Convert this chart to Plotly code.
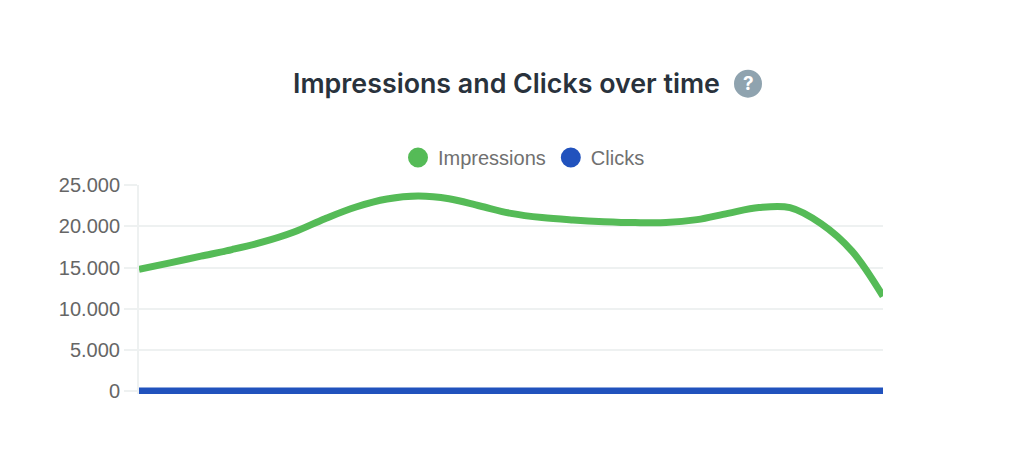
import plotly.graph_objects as go

periods = list(range(25))
impressions = [14770, 15570, 16380, 17190, 18120, 19330, 20950, 22370, 23340, 23700,
               23380, 22490, 21600, 21080, 20790, 20590, 20470, 20470, 20830, 21600,
               22300, 22300, 20350, 17000, 11500]
clicks = [0] * 25
y_ticks = [0, 5000, 10000, 15000, 20000, 25000]

GREEN = '#55bb57'
BLUE = '#2152bd'
GRID = '#eef1f1'

# Plot box in page pixels, the page body adds 8px around the figure.
LEFT, RIGHT, TOP, BOTTOM = 139, 883, 184.6, 394.3


def px(x):
    return (x - LEFT) / (RIGHT - LEFT)


def py(y):
    return (BOTTOM - y) / (BOTTOM - TOP)


fig = go.Figure()

# The curves themselves, no legend entry because the legend uses round dots.
fig.add_trace(go.Scatter(x=periods, y=impressions, mode='lines', showlegend=False,
                         line=dict(color=GREEN, width=7, shape='spline', smoothing=1)))
fig.add_trace(go.Scatter(x=periods, y=clicks, mode='lines', showlegend=False,
                         line=dict(color=BLUE, width=6.5)))

# Legend dots
fig.add_trace(go.Scatter(x=[None], y=[None], mode='markers', name='Impressions',
                         marker=dict(color=GREEN, size=16, line=dict(color=GREEN, width=4))))
fig.add_trace(go.Scatter(x=[None], y=[None], mode='markers', name='Clicks',
                         marker=dict(color=BLUE, size=16, line=dict(color=BLUE, width=4))))

fig.update_layout(
    width=1008,
    height=444,
    margin=dict(l=LEFT - 8, r=1016 - RIGHT, t=TOP - 8, b=452 - BOTTOM),
    paper_bgcolor='white',
    plot_bgcolor='white',
    separators=',.',
    font=dict(family='Liberation Sans', size=20, color='#666666'),
    title=dict(text='Impressions and Clicks over time', x=(506.5 - 8) / 1008, xanchor='center',
               y=1 - (84 - 8) / 444, yanchor='middle',
               font=dict(family='Inter', size=26.8, weight=600, color='#29323c')),
    legend=dict(orientation='h', x=px(524), xanchor='center', y=py(157), yanchor='middle',
                font=dict(size=20, color='#707070'), itemclick=False),
    xaxis=dict(range=[0, 24], showgrid=False, showticklabels=False, zeroline=False,
               showline=False, ticks=''),
    yaxis=dict(range=[-400, 25050], tickvals=y_ticks, tickformat=',d', gridcolor=GRID, gridwidth=2,
               zeroline=False, showline=True, linecolor=GRID, linewidth=2,
               ticks='outside', ticklen=13, tickwidth=2, tickcolor=GRID),
)

# Help icon next to the title
fig.add_shape(type='circle', xref='paper', yref='paper', layer='above',
              x0=px(734), x1=px(762), y0=py(97), y1=py(69),
              fillcolor='#8fa3af', line_width=0)
fig.add_annotation(text='<b>?</b>', xref='paper', yref='paper', showarrow=False,
                   x=px(748), y=py(83), xanchor='center', yanchor='middle',
                   font=dict(family='Inter', size=19, color='white'))

fig.write_html("out.html")
